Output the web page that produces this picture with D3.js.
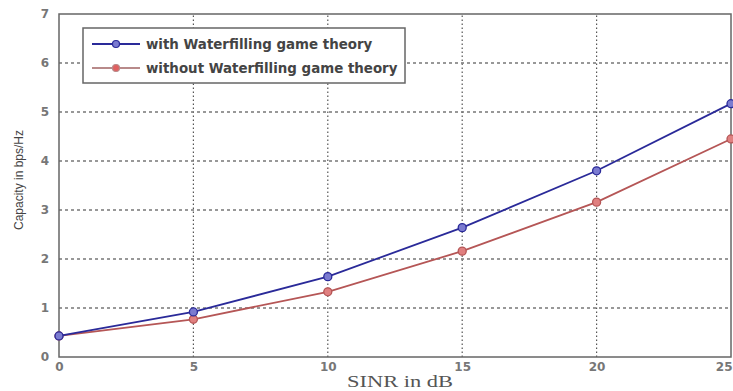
<!DOCTYPE html>
<html><head><meta charset="utf-8">
<script src="https://cdn.jsdelivr.net/npm/d3@7"></script>
<style>body{margin:0;background:#fff;}svg{display:block;}</style>
</head><body>
<script>
const sinr = [0, 5, 10, 15, 20, 25];
const withWF = [0.43, 0.92, 1.64, 2.64, 3.80, 5.17];
const withoutWF = [0.43, 0.77, 1.33, 2.16, 3.16, 4.45];
const xTicks = [0, 5, 10, 15, 20, 25];
const yTicks = [0, 1, 2, 3, 4, 5, 6, 7];
const seriesNames = ["with Waterfilling game theory", "without Waterfilling game theory"];

const W = 733, H = 391;
const svg = d3.select("body").append("svg").attr("width", W).attr("height", H);
const x = d3.scaleLinear().domain([0, 25]).range([59, 731]);
const y = d3.scaleLinear().domain([0, 7]).range([357, 14]);
const axisCol = "#666";
const tickFont = "DejaVu Sans, Verdana, sans-serif";

// grid
const g = svg.append("g");
g.selectAll(".vg").data(xTicks.slice(1, -1)).join("line")
  .attr("x1", d => x(d)).attr("x2", d => x(d)).attr("y1", y(0)).attr("y2", y(7))
  .attr("stroke", "#555").attr("stroke-width", 1.2).attr("stroke-dasharray", "1.5,2.5");
g.selectAll(".hg").data(yTicks.slice(1, -1)).join("line")
  .attr("x1", x(0)).attr("x2", x(25)).attr("y1", d => y(d)).attr("y2", d => y(d))
  .attr("stroke", "#777").attr("stroke-width", 1.5).attr("stroke-dasharray", "3,3");

// frame
svg.append("rect").attr("x", x(0)).attr("y", y(7)).attr("width", x(25) - x(0)).attr("height", y(0) - y(7))
  .attr("fill", "none").attr("stroke", axisCol).attr("stroke-width", 1.5);

// axes
const xa = svg.append("g").attr("transform", `translate(0,${y(0)})`)
  .call(d3.axisBottom(x).tickValues(xTicks).tickFormat(d3.format("d")).tickSize(0).tickPadding(5));
const ya = svg.append("g").attr("transform", `translate(${x(0)},0)`)
  .call(d3.axisLeft(y).tickValues(yTicks).tickFormat(d3.format("d")).tickSize(0).tickPadding(10));
[xa, ya].forEach(a => {
  a.select(".domain").remove();
  a.selectAll("text").attr("font-family", tickFont)
    .attr("font-size", 12).attr("font-weight", "bold").attr("fill", "#777");
});
xa.selectAll("text").attr("dy", "0.71em");
xa.selectAll(".tick").filter(d => d === 25).select("text").attr("text-anchor", "end").attr("dx", 1);

// series
const series = [
  {vals: withWF, col: "#2a2a99", fill: "#7b7bd0"},
  {vals: withoutWF, col: "#b55656", fill: "#e08080"}
];
const line = d3.line().x(d => x(d[0])).y(d => y(d[1]));
series.slice().reverse().forEach(s => {
  const pts = sinr.map((v, i) => [v, s.vals[i]]);
  svg.append("path").attr("d", line(pts)).attr("fill", "none").attr("stroke", s.col).attr("stroke-width", 1.8);
  svg.selectAll(null).data(pts).join("circle")
    .attr("cx", d => x(d[0])).attr("cy", d => y(d[1])).attr("r", 4)
    .attr("fill", s.fill).attr("stroke", s.col).attr("stroke-width", 1.3);
});

// legend
const lg = svg.append("g");
lg.append("rect").attr("x", 83).attr("y", 28).attr("width", 322).attr("height", 55)
  .attr("fill", "#fff").attr("stroke", axisCol).attr("stroke-width", 1.5);
const legCols = [{col: "#2a2a99", fill: "#7b7bd0"}, {col: "#b88a8a", fill: "#e06060"}];
seriesNames.forEach((n, i) => {
  const yy = 44 + i * 24;
  lg.append("line").attr("x1", 92).attr("x2", 140).attr("y1", yy).attr("y2", yy)
    .attr("stroke", legCols[i].col).attr("stroke-width", 2);
  lg.append("circle").attr("cx", 116).attr("cy", yy).attr("r", 3.5)
    .attr("fill", legCols[i].fill).attr("stroke", legCols[i].col).attr("stroke-width", 1.2);
  lg.append("text").attr("x", 146).attr("y", yy).attr("dy", "0.35em")
    .attr("font-family", tickFont).attr("font-size", 13.4)
    .attr("font-weight", "bold").attr("fill", "#444").text(n);
});

// axis titles
svg.append("text").attr("x", 400).attr("y", 387).attr("text-anchor", "middle")
  .attr("font-family", "Liberation Serif, Times New Roman, serif").attr("font-size", 17)
  .attr("textLength", 106).attr("lengthAdjust", "spacingAndGlyphs")
  .attr("fill", "#555").text("SINR in dB");
svg.append("text").attr("transform", "translate(23,180) rotate(-90)").attr("text-anchor", "middle")
  .attr("font-family", "Liberation Sans Narrow, Liberation Sans, Arial, sans-serif").attr("font-size", 12)
  .attr("fill", "#444").text("Capacity in bps/Hz");
</script>
</body></html>
